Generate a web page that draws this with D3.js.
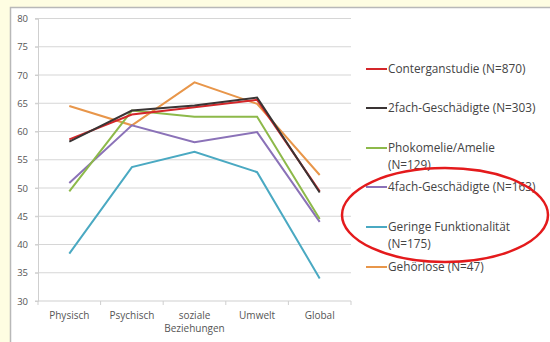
<!DOCTYPE html>
<html>
<head>
<meta charset="utf-8">
<script src="https://cdn.jsdelivr.net/npm/d3@7"></script>
<style>
  html, body { margin: 0; padding: 0; background: #fefde2; }
  svg { display: block; }
</style>
</head>
<body>
<svg id="chart" width="550" height="342"></svg>
<script>
// Lebensqualität nach Bereichen, je Gruppe
const categories = ["Physisch", "Psychisch", "soziale\nBeziehungen", "Umwelt", "Global"];
const yTicks = [30, 35, 40, 45, 50, 55, 60, 65, 70, 75, 80];

const seriesNames = [
  "Conterganstudie (N=870)",
  "2fach-Geschädigte (N=303)",
  "Phokomelie/Amelie\n(N=129)",
  "4fach-Geschädigte (N=163)",
  "Geringe Funktionalität\n(N=175)",
  "Gehörlose (N=47)"
];
const seriesColors = ["#d4262a", "#3a3434", "#8db94a", "#8b72b8", "#4aa9c2", "#e8964a"];

const contergan   = [58.6, 63.0, 64.3, 65.6, 49.4];
const zweifach    = [58.2, 63.7, 64.6, 66.0, 49.2];
const phokomelie  = [49.4, 63.7, 62.6, 62.6, 44.5];
const vierfach    = [50.9, 61.1, 58.1, 59.9, 44.0];
const gering      = [38.4, 53.7, 56.4, 52.8, 34.0];
const gehoerlose  = [64.5, 61.1, 68.7, 64.9, 52.3];
const seriesValues = [contergan, zweifach, phokomelie, vierfach, gering, gehoerlose];

const svg = d3.select("#chart");

// white chart panel
svg.append("rect")
  .attr("x", 10.5).attr("y", 7.5)
  .attr("width", 545).attr("height", 340)
  .attr("fill", "#ffffff")
  .attr("stroke", "#b8b8b8").attr("stroke-width", 1.5);

const plot = { left: 38, right: 351, top: 18.5, bottom: 301 };

const x = d3.scaleBand().domain(categories).range([plot.left, plot.right]);
const y = d3.scaleLinear().domain([30, 80]).range([plot.bottom, plot.top]);

// horizontal gridlines
svg.append("g")
  .selectAll("line")
  .data(yTicks.filter(t => t > 30))
  .join("line")
  .attr("x1", plot.left - 3).attr("x2", plot.right)
  .attr("y1", d => y(d)).attr("y2", d => y(d))
  .attr("stroke", "#d6d6d6").attr("stroke-width", 1.2);

// y axis
const yAxis = svg.append("g")
  .attr("transform", `translate(${plot.left},0)`)
  .call(d3.axisLeft(y).tickValues(yTicks).tickSize(3).tickPadding(7));
yAxis.select(".domain").attr("stroke", "#cfcfcf");
yAxis.selectAll(".tick line").attr("stroke", "#cfcfcf");
yAxis.selectAll("text")
  .attr("font-family", "Open Sans, sans-serif")
  .attr("font-size", 9.5).attr("fill", "#555");

// x axis: ticks sit on category boundaries
const xAxis = svg.append("g")
  .attr("transform", `translate(0,${plot.bottom})`);
xAxis.append("line")
  .attr("x1", plot.left - 3).attr("x2", plot.right)
  .attr("stroke", "#cfcfcf").attr("stroke-width", 1.2);
xAxis.selectAll("line.tk")
  .data(categories.map(c => x(c)).concat([plot.right]))
  .join("line").attr("class", "tk")
  .attr("x1", d => d).attr("x2", d => d)
  .attr("y1", 0).attr("y2", 4)
  .attr("stroke", "#cfcfcf");
xAxis.selectAll("text.cat")
  .data(categories)
  .join("text").attr("class", "cat")
  .attr("x", d => x(d) + x.bandwidth() / 2)
  .attr("y", 18)
  .attr("text-anchor", "middle")
  .attr("font-family", "Open Sans, sans-serif")
  .attr("font-size", 10).attr("fill", "#555")
  .each(function(d) {
    const lines = d.split("\n");
    d3.select(this).selectAll("tspan").data(lines).join("tspan")
      .attr("x", x(d) + x.bandwidth() / 2)
      .attr("dy", (l, i) => i === 0 ? 0 : 13)
      .text(l => l);
  });

// series lines
const line = d3.line()
  .x((d, i) => x(categories[i]) + x.bandwidth() / 2)
  .y(d => y(d));

const drawOrder = [5, 4, 3, 2, 0, 1];
svg.append("g")
  .selectAll("path")
  .data(drawOrder)
  .join("path")
  .attr("d", i => line(seriesValues[i]))
  .attr("fill", "none")
  .attr("stroke", i => seriesColors[i])
  .attr("stroke-width", 2)
  .attr("stroke-linejoin", "miter");

// legend
const legendRows = [69, 108, 148, 187, 227, 267];
const legend = svg.append("g");
seriesNames.forEach((name, i) => {
  const ly = legendRows[i];
  legend.append("line")
    .attr("x1", 366).attr("x2", 387)
    .attr("y1", ly).attr("y2", ly)
    .attr("stroke", seriesColors[i]).attr("stroke-width", 2);
  const t = legend.append("text")
    .attr("x", 388).attr("y", ly + 4)
    .attr("font-family", "Open Sans, sans-serif")
    .attr("font-size", 11.8).attr("fill", "#444");
  name.split("\n").forEach((part, k) => {
    t.append("tspan").attr("x", 388).attr("dy", k === 0 ? 0 : 17).text(part);
  });
});

// highlight ring around the "Geringe Funktionalität" entry
svg.append("ellipse")
  .attr("cx", 445).attr("cy", 215)
  .attr("rx", 103).attr("ry", 47)
  .attr("fill", "none")
  .attr("stroke", "#e41a1c").attr("stroke-width", 2.5);
</script>
</body>
</html>
